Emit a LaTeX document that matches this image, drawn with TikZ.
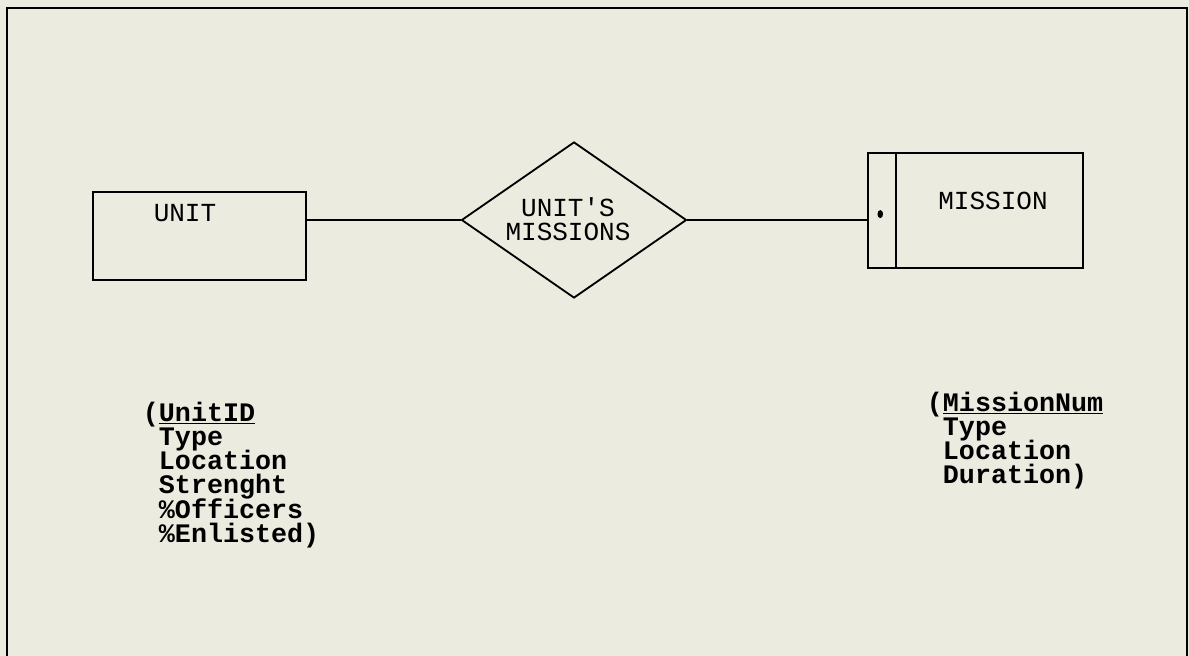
\documentclass[tikz,border=0pt]{standalone}
\usepackage{fontspec}
\setmonofont{Liberation Mono}
\usetikzlibrary{shapes.geometric}
\definecolor{paper}{RGB}{236,235,224}
\newcommand{\ind}{\hphantom{(}}
\newcommand{\tightlines}{\lineskiplimit=-30pt\relax}

\begin{document}
\begin{tikzpicture}[x=0.025cm,y=-0.025cm,line width=1.3pt,
  entity/.style={draw,minimum width=5.325cm,minimum height=2.2cm,inner sep=0},
  relship/.style={draw,diamond,minimum width=5.625cm,minimum height=3.9cm,inner sep=0},
  lbl/.style={font=\fontsize{18.5}{17}\selectfont\ttfamily\tightlines,align=center,inner sep=0},
  attr/.style={font=\fontsize{19}{17.2}\selectfont\ttfamily\bfseries\tightlines,align=left,anchor=north west,inner sep=0}]
\fill[paper] (0,0) rectangle (1189,656);
\useasboundingbox (0,0) rectangle (1189,656);
% frame
\coordinate (fbl) at (7,656);
\coordinate (ftl) at (7,8);
\coordinate (ftr) at (1187,8);
\coordinate (fbr) at (1187,656);
\draw (fbl) -- (ftl) -- (ftr) -- (fbr);
% entities and relationship
\node[entity] (unit) at (199.5,236) {};
\node[lbl] (unittxt) at (185,213) {UNIT};
\node[relship] (rel) at (574,220) {};
\node[lbl] (reltxt) at (568,219) {UNIT'S\\MISSIONS};
\node[entity,minimum width=5.375cm,minimum height=2.875cm] (mission) at (975.5,210.5) {};
\node[lbl] (missiontxt) at (993,201) {MISSION};
\coordinate (wk) at ([xshift=0.725cm]mission.north west);
\draw (wk) -- (wk |- mission.south);
\fill ([xshift=0.33cm,yshift=-0.09cm]mission.west) ellipse (0.07cm and 0.1cm);
% connectors
\draw (rel.west -| unit.east) -- (rel.west);
\draw (rel.east) -- (rel.east -| mission.west);
% attributes
\node[attr] (unitattr) at (142,401) {(\underline{UnitID}\\\ind Type\\\ind Location\\\ind Strenght\\\ind \%Officers\\\ind \%Enlisted)};
\node[attr] (missionattr) at (926,391) {(\underline{MissionNum}\\\ind Type\\\ind Location\\\ind Duration)};
\end{tikzpicture}
\end{document}
